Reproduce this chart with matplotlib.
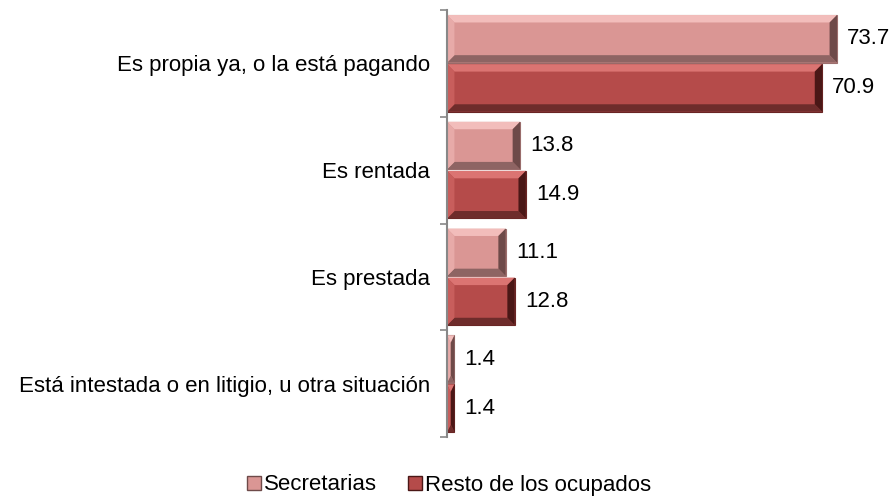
import matplotlib

matplotlib.use("Agg")

import matplotlib.pyplot as plt
import numpy as np
from matplotlib.patches import Patch, Polygon

plt.rcParams["font.family"] = ["Liberation Sans", "DejaVu Sans"]

categories = [
    "Es propia ya, o la está pagando",
    "Es rentada",
    "Es prestada",
    "Está intestada o en litigio, u otra situación",
]
series_names = ["Secretarias", "Resto de los ocupados"]
secretarias = [73.7, 13.8, 11.1, 1.4]
resto = [70.9, 14.9, 12.8, 1.4]

face_colors = ["#DA9694", "#B54B4A"]
top_colors = ["#F2BDBB", "#DB7472"]
left_colors = ["#E7AAA8", "#C85E5C"]
bottom_colors = ["#8E6463", "#6E2C2B"]
right_colors = ["#6E4A49", "#4A1716"]
edge_colors = ["#9C6E6D", "#6A2524"]
FS = 16


def bevel_bar(ax, yc, value, height, i):
    # bar with a simple bevel: four trapezoids around a flat face
    y0, y1 = yc - height / 2, yc + height / 2  # y axis inverted: y0 is top
    bx = min(1.4, value / 2)
    by = min(0.07, height / 2)
    ax.add_patch(Polygon([(0, y0), (value, y0), (value, y1), (0, y1)],
                         closed=True, facecolor=face_colors[i],
                         edgecolor=edge_colors[i], linewidth=0.8, zorder=2))
    ax.add_patch(Polygon([(0, y0), (value, y0), (value - bx, y0 + by), (bx, y0 + by)],
                         closed=True, facecolor=top_colors[i], linewidth=0, zorder=3))
    ax.add_patch(Polygon([(0, y1), (value, y1), (value - bx, y1 - by), (bx, y1 - by)],
                         closed=True, facecolor=bottom_colors[i], linewidth=0, zorder=3))
    ax.add_patch(Polygon([(0, y0), (bx, y0 + by), (bx, y1 - by), (0, y1)],
                         closed=True, facecolor=left_colors[i], linewidth=0, zorder=3))
    ax.add_patch(Polygon([(value, y0), (value - bx, y0 + by), (value - bx, y1 - by), (value, y1)],
                         closed=True, facecolor=right_colors[i], linewidth=0, zorder=3))


fig = plt.figure(figsize=(8.93, 5.0), dpi=100)
ax = fig.add_axes([0.5006, 0.126, 0.474, 0.854])

y = np.arange(len(categories))
h = 0.46
for i, vals in enumerate([secretarias, resto]):
    pos = y - h / 2 + i * h
    for p, v in zip(pos, vals):
        bevel_bar(ax, p, v, h * 0.97, i)
        ax.text(v + 1.9, p, f"{v:.1f}", va="center", ha="left", fontsize=FS)

ax.set_ylim(len(categories) - 0.5, -0.5)
ax.set_xlim(0, 80)
ax.set_yticks(y, labels=categories, fontsize=FS)
ax.set_yticks(np.arange(len(categories) + 1) - 0.5, minor=True)
ax.tick_params(axis="y", which="major", length=0, pad=12)
ax.tick_params(axis="y", which="minor", length=5, color="#888888", width=1.2)
ax.set_xticks([])
for side in ["top", "right", "bottom"]:
    ax.spines[side].set_visible(False)
ax.spines["left"].set_color("#888888")
ax.spines["left"].set_linewidth(1.5)
ax.spines["left"].set_zorder(4)

handles = [Patch(facecolor=face_colors[i], edgecolor=right_colors[i], label=series_names[i])
           for i in range(2)]
fig.legend(handles=handles, loc="center", bbox_to_anchor=(0.503, 0.03), ncol=2,
           frameon=False, fontsize=FS, handlelength=0.6, handleheight=0.6,
           handletextpad=0.15, columnspacing=1.4)

fig.savefig("out.png", dpi=100)
